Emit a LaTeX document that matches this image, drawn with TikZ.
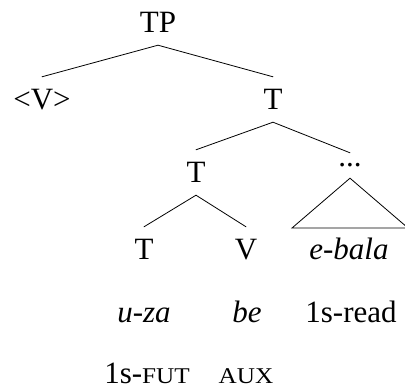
\documentclass[tikz,border=0pt]{standalone}
\usepackage{fontspec}
\setmainfont{Liberation Serif}
\newfontfamily\scfont{Liberation Serif}[FakeStretch=1.12]
\newcommand{\fsc}[1]{{\scfont\fontsize{22.5}{27}\selectfont #1}}
\begin{document}
\begin{tikzpicture}[x=1pt,y=-1pt,
  lab/.style={anchor=base, font=\fontsize{31}{36}\selectfont, inner xsep=0pt, inner ysep=12pt, text height=21pt, text depth=0pt},
  gloss/.style={lab, inner ysep=0pt, text height=20pt, text depth=0pt},
  branch/.style={line width=0.8pt, line cap=round}]
\useasboundingbox (0,0) rectangle (405,390);
% nodes
\node[lab] (TP) at (158,33) {TP};
\node[lab] (Vt) at (42,110) {<V>};
\node[lab] (T2) at (273,110) {T};
\node[lab] (T3) at (196,183) {T};
\node[font=\fontsize{31}{36}\selectfont, inner sep=0pt, minimum height=25pt] (dots) at (350,165.5) {...};
\node[lab] (T4) at (144,260) {T};
\node[lab] (V4) at (246,260) {V};
\node[lab] (eb) at (349,260) {\itshape e-bala};
\node[gloss] (uza) at (144,323) {\itshape u-za};
\node[gloss] (be) at (247,323) {\itshape be};
\node[gloss] (read) at (351,323) {1s-read};
\node[gloss] (fut) at (147,384) {1s-\fsc{FUT}};
\node[gloss] (aux) at (246,384) {\fsc{AUX}};
% triangle corners
\coordinate (triL) at (292,228);
\coordinate (triR) at (408,228);
% branches
\draw[branch] (TP.south) -- (Vt.north);
\draw[branch] (TP.south) -- (T2.north);
\draw[branch] (T2.south) -- (T3.north);
\draw[branch] (T2.south) -- (dots.north);
\draw[branch] (T3.south) -- (T4.north);
\draw[branch] (T3.south) -- (V4.north);
\draw[branch] (dots.south) -- (triL) -- (triR) -- cycle;
\end{tikzpicture}
\end{document}
